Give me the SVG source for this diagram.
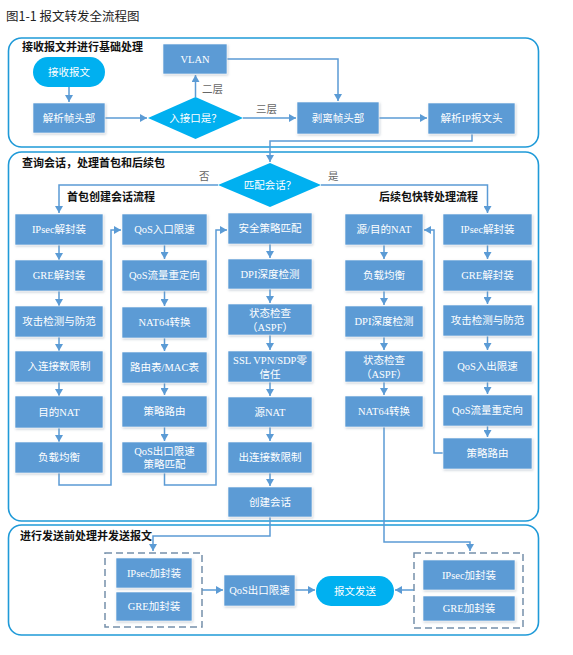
<svg xmlns="http://www.w3.org/2000/svg" width="573" height="655" viewBox="0 0 573 655">
<defs>
<style>
.panel{fill:none;stroke:#1f9ad8;stroke-width:1.6}
.box{fill:#5b9bd5;stroke:#ffffff;stroke-width:0.6}
.pill{fill:#00b0f0}
.dash{fill:none;stroke:#7590ab;stroke-width:1.5;stroke-dasharray:7,4}
.t{font-family:"Liberation Serif","Noto Sans CJK SC",serif;font-size:10.5px;fill:#ffffff;text-anchor:middle}
.lbl{font-family:"Liberation Serif","Noto Sans CJK SC",serif;font-size:10.5px;fill:#666666}
.h{font-family:"Liberation Serif","Noto Sans CJK SC",serif;font-size:11px;font-weight:bold;fill:#111111}
.title{font-family:"Noto Sans CJK SC","Liberation Sans",sans-serif;font-size:12.5px;fill:#222222}
.c{fill:none;stroke:#5b9bd5;stroke-width:1.5;marker-end:url(#ah)}
.cn{fill:none;stroke:#5b9bd5;stroke-width:1.5}
</style>
<marker id="ah" markerUnits="userSpaceOnUse" markerWidth="8" markerHeight="8" refX="7" refY="4" orient="auto">
<path d="M0,0 L7,4 L0,8 z" fill="#5b9bd5"/>
</marker>
<filter id="sh" x="-5%" y="-5%" width="115%" height="125%">
<feDropShadow dx="0.8" dy="1.2" stdDeviation="0.8" flood-color="#8a9aab" flood-opacity="0.45"/>
</filter>
</defs>
<rect width="573" height="655" fill="#ffffff"/>
<text class="title" x="6" y="21">图1-1 报文转发全流程图</text>

<g id="panel-receive">
<rect class="panel" x="8.5" y="38" width="530" height="109" rx="13"/>
<text class="h" x="22" y="51">接收报文并进行基础处理</text>
</g>
<g id="panel-session">
<rect class="panel" x="8.5" y="152" width="530" height="369" rx="13"/>
<text class="h" x="22" y="167">查询会话，处理首包和后续包</text>
<text class="h" x="67" y="201">首包创建会话流程</text>
<text class="h" x="379" y="201">后续包快转处理流程</text>
</g>
<g id="panel-send">
<rect class="panel" x="8.5" y="525" width="530" height="110" rx="13"/>
<text class="h" x="20" y="540">进行发送前处理并发送报文</text>
</g>

<g id="connectors">
<path class="c" d="M69,87 V102"/>
<path class="c" d="M105,118 H147"/>
<path class="c" d="M195.5,97 V75"/>
<path class="c" d="M227,59 H338 V101"/>
<path class="c" d="M243,118 H296"/>
<path class="c" d="M379,118 H427"/>
<path class="c" d="M472,134 V141 H270 V162"/>
<path class="c" d="M218,185 H59 V213"/>
<path class="c" d="M321,185 H487.5 V213"/>
<!-- col1 -->
<path class="c" d="M59,245 V260"/>
<path class="c" d="M59,291 V306"/>
<path class="c" d="M59,337 V351"/>
<path class="c" d="M59,382 V396"/>
<path class="c" d="M59,428 V442"/>
<path class="c" d="M59,473 V485 H111 V230 H121"/>
<!-- col2 -->
<path class="c" d="M164.5,245 V259"/>
<path class="c" d="M164.5,291 V306"/>
<path class="c" d="M164.5,338 V351"/>
<path class="c" d="M164.5,383 V395"/>
<path class="c" d="M164.5,427 V441"/>
<path class="c" d="M164.5,473 V485 H216 V230 H227"/>
<!-- col3 -->
<path class="c" d="M270,244 V258"/>
<path class="c" d="M270,289 V303"/>
<path class="c" d="M270,335 V350"/>
<path class="c" d="M270,382 V396"/>
<path class="c" d="M270,427 V441"/>
<path class="c" d="M270,473 V486"/>
<path class="c" d="M270,517 V536 H153 V551"/>
<!-- col4 -->
<path class="c" d="M384,245 V259"/>
<path class="c" d="M384,291 V305"/>
<path class="c" d="M384,337 V350"/>
<path class="c" d="M384,382 V395"/>
<path class="c" d="M384,427 V542 H470 V551"/>
<!-- col5 -->
<path class="c" d="M487.5,245 V259"/>
<path class="c" d="M487.5,291 V304"/>
<path class="c" d="M487.5,336 V350"/>
<path class="c" d="M487.5,382 V394"/>
<path class="c" d="M487.5,426 V437"/>
<path class="c" d="M443,453 H434 V230 H424"/>
<!-- bottom -->
<path class="c" d="M202,590 H223"/>
<path class="c" d="M295,590 H315"/>
<path class="c" d="M414,590 H395"/>
</g>

<g id="n-recv"><rect class="pill" x="33" y="57" width="72" height="30" rx="15"/><text class="t" x="69" y="76">接收报文</text></g>
<g id="n-parse-frame"><rect class="box" filter="url(#sh)" x="33" y="103" width="72" height="30"/><text class="t" x="69" y="122">解析帧头部</text></g>
<g id="n-iface"><polygon class="pill" points="195.5,97 243,118 195.5,139 148,118"/><text class="t" x="195.5" y="122">入接口是？</text></g>
<g id="lbl-l2"><text class="lbl" x="202" y="93">二层</text></g>
<g id="lbl-l3"><text class="lbl" x="256" y="113">三层</text></g>
<g id="n-vlan"><rect class="box" filter="url(#sh)" x="163" y="44" width="64" height="30"/><text class="t" x="195" y="63">VLAN</text></g>
<g id="n-strip"><rect class="box" filter="url(#sh)" x="297" y="102" width="82" height="32"/><text class="t" x="338" y="122">剥离帧头部</text></g>
<g id="n-parse-ip"><rect class="box" filter="url(#sh)" x="428" y="103" width="87" height="31"/><text class="t" x="471.5" y="122">解析IP报文头</text></g>
<g id="n-match"><polygon class="pill" points="270,163 321,185 270,207 218,185"/><text class="t" x="270" y="189">匹配会话？</text></g>
<g id="lbl-no"><text class="lbl" x="199" y="180">否</text></g>
<g id="lbl-yes"><text class="lbl" x="328" y="180">是</text></g>

<!-- column 1 -->
<g id="c1-ipsec"><rect class="box" filter="url(#sh)" x="15" y="214" width="88" height="31"/><text class="t" x="59" y="233">IPsec解封装</text></g>
<g id="c1-gre"><rect class="box" filter="url(#sh)" x="15" y="260" width="88" height="31"/><text class="t" x="59" y="279">GRE解封装</text></g>
<g id="c1-attack"><rect class="box" filter="url(#sh)" x="15" y="306" width="88" height="31"/><text class="t" x="59" y="325">攻击检测与防范</text></g>
<g id="c1-inconn"><rect class="box" filter="url(#sh)" x="15" y="351" width="88" height="31"/><text class="t" x="59" y="370">入连接数限制</text></g>
<g id="c1-dnat"><rect class="box" filter="url(#sh)" x="15" y="396" width="88" height="32"/><text class="t" x="59" y="416">目的NAT</text></g>
<g id="c1-lb"><rect class="box" filter="url(#sh)" x="15" y="442" width="88" height="31"/><text class="t" x="59" y="461">负载均衡</text></g>

<!-- column 2 -->
<g id="c2-qosin"><rect class="box" filter="url(#sh)" x="122" y="214" width="85" height="31"/><text class="t" x="164.5" y="233">QoS入口限速</text></g>
<g id="c2-redirect"><rect class="box" filter="url(#sh)" x="122" y="260" width="85" height="31"/><text class="t" x="164.5" y="279">QoS流量重定向</text></g>
<g id="c2-nat64"><rect class="box" filter="url(#sh)" x="122" y="307" width="85" height="31"/><text class="t" x="164.5" y="326">NAT64转换</text></g>
<g id="c2-route"><rect class="box" filter="url(#sh)" x="122" y="352" width="85" height="31"/><text class="t" x="164.5" y="371">路由表/MAC表</text></g>
<g id="c2-pbr"><rect class="box" filter="url(#sh)" x="122" y="396" width="85" height="31"/><text class="t" x="164.5" y="415">策略路由</text></g>
<g id="c2-qosout"><rect class="box" filter="url(#sh)" x="122" y="442" width="85" height="31"/><text class="t" x="164.5" y="455">QoS出口限速</text><text class="t" x="164.5" y="468">策略匹配</text></g>

<!-- column 3 -->
<g id="c3-policy"><rect class="box" filter="url(#sh)" x="228" y="213" width="84" height="31"/><text class="t" x="270" y="232">安全策略匹配</text></g>
<g id="c3-dpi"><rect class="box" filter="url(#sh)" x="228" y="259" width="84" height="30"/><text class="t" x="270" y="278">DPI深度检测</text></g>
<g id="c3-aspf"><rect class="box" filter="url(#sh)" x="228" y="304" width="84" height="31"/><text class="t" x="270" y="317">状态检查</text><text class="t" x="270" y="331">（ASPF）</text></g>
<g id="c3-ssl"><rect class="box" filter="url(#sh)" x="228" y="351" width="84" height="31"/><text class="t" x="270" y="364">SSL VPN/SDP零</text><text class="t" x="270" y="378">信任</text></g>
<g id="c3-snat"><rect class="box" filter="url(#sh)" x="228" y="397" width="84" height="30"/><text class="t" x="270" y="416">源NAT</text></g>
<g id="c3-outconn"><rect class="box" filter="url(#sh)" x="228" y="442" width="84" height="31"/><text class="t" x="270" y="461">出连接数限制</text></g>
<g id="c3-create"><rect class="box" filter="url(#sh)" x="228" y="487" width="84" height="30"/><text class="t" x="270" y="506">创建会话</text></g>

<!-- column 4 -->
<g id="c4-nat"><rect class="box" filter="url(#sh)" x="345" y="214" width="78" height="31"/><text class="t" x="384" y="233">源/目的NAT</text></g>
<g id="c4-lb"><rect class="box" filter="url(#sh)" x="345" y="260" width="78" height="31"/><text class="t" x="384" y="279">负载均衡</text></g>
<g id="c4-dpi"><rect class="box" filter="url(#sh)" x="345" y="306" width="78" height="31"/><text class="t" x="384" y="325">DPI深度检测</text></g>
<g id="c4-aspf"><rect class="box" filter="url(#sh)" x="345" y="351" width="78" height="31"/><text class="t" x="384" y="364">状态检查</text><text class="t" x="384" y="378">（ASPF）</text></g>
<g id="c4-nat64"><rect class="box" filter="url(#sh)" x="345" y="396" width="78" height="31"/><text class="t" x="384" y="415">NAT64转换</text></g>

<!-- column 5 -->
<g id="c5-ipsec"><rect class="box" filter="url(#sh)" x="443" y="214" width="89" height="31"/><text class="t" x="487.5" y="233">IPsec解封装</text></g>
<g id="c5-gre"><rect class="box" filter="url(#sh)" x="443" y="260" width="89" height="31"/><text class="t" x="487.5" y="279">GRE解封装</text></g>
<g id="c5-attack"><rect class="box" filter="url(#sh)" x="443" y="305" width="89" height="31"/><text class="t" x="487.5" y="324">攻击检测与防范</text></g>
<g id="c5-qos"><rect class="box" filter="url(#sh)" x="443" y="351" width="89" height="31"/><text class="t" x="487.5" y="370">QoS入出限速</text></g>
<g id="c5-redirect"><rect class="box" filter="url(#sh)" x="443" y="395" width="89" height="31"/><text class="t" x="487.5" y="414">QoS流量重定向</text></g>
<g id="c5-pbr"><rect class="box" filter="url(#sh)" x="443" y="438" width="89" height="31"/><text class="t" x="487.5" y="457">策略路由</text></g>

<!-- bottom -->
<g id="grp-encap-left">
<rect class="dash" x="105" y="553" width="97" height="74"/>
<g id="b-ipsec-l"><rect class="box" filter="url(#sh)" x="116" y="558" width="76" height="30"/><text class="t" x="154" y="577">IPsec加封装</text></g>
<g id="b-gre-l"><rect class="box" filter="url(#sh)" x="116" y="592" width="76" height="29"/><text class="t" x="154" y="610">GRE加封装</text></g>
</g>
<g id="b-qosout"><rect class="box" filter="url(#sh)" x="224" y="575" width="71" height="31"/><text class="t" x="259.5" y="594">QoS出口限速</text></g>
<g id="b-send"><rect class="pill" x="316" y="576" width="78" height="30" rx="15"/><text class="t" x="355" y="595">报文发送</text></g>
<g id="grp-encap-right">
<rect class="dash" x="414" y="553" width="109" height="75"/>
<g id="b-ipsec-r"><rect class="box" filter="url(#sh)" x="423" y="560" width="92" height="30"/><text class="t" x="469" y="579">IPsec加封装</text></g>
<g id="b-gre-r"><rect class="box" filter="url(#sh)" x="423" y="596" width="92" height="25"/><text class="t" x="469" y="612">GRE加封装</text></g>
</g>
</svg>
